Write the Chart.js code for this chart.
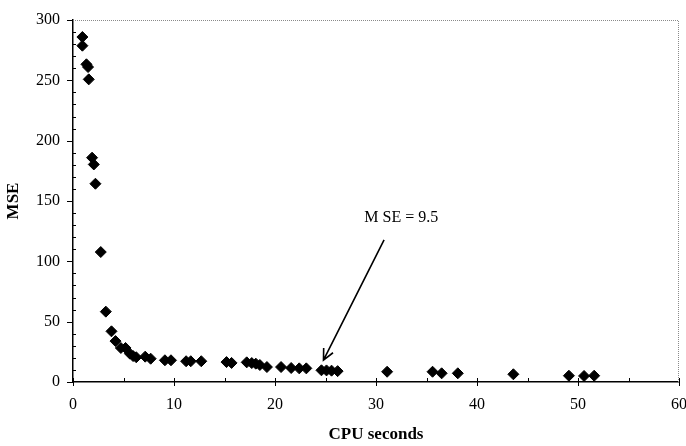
<!DOCTYPE html>
<html>
<head>
<meta charset="utf-8">
<script src="https://cdn.jsdelivr.net/npm/chart.js@4/dist/chart.umd.min.js"></script>
<style>
  body { margin: 0; background: #fff; }
  canvas { display: block; }
</style>
</head>
<body>
<canvas id="mse-chart" width="686" height="446"></canvas>
<script>
// values
const cpuSeconds = [0.93, 0.93, 1.33, 1.49, 1.56, 1.89, 2.06, 2.22, 2.75, 3.25, 3.81, 4.21, 4.74, 5.2, 5.63, 5.95, 6.26, 7.15, 7.69, 9.1, 9.7, 11.2, 11.66, 12.7,
    15.2, 15.7, 17.2, 17.7, 18.1, 18.5, 19.2, 20.6, 21.6, 22.4, 23.1, 24.6, 25.1, 25.6, 26.2, 31.1, 35.6, 36.5, 38.1, 43.6, 49.1, 50.6, 51.6]
const mse = [285.9, 278.7, 263.3, 261, 250.8, 185.9, 180.3, 164.3, 107.7, 58.3, 42, 33.9, 28.2, 28.2, 23.5, 21.5, 20.5, 21, 19.3, 18, 18, 17.2, 17.2, 17.2,
    16.5, 15.8, 16.3, 15.7, 15.2, 14.1, 12.4, 12.4, 11.6, 11.3, 11.3, 9.7, 9.6, 9.4, 9.0, 8.5, 8.5, 7.2, 7.2, 6.4, 5.2, 5.0, 5.2]

const xTicks = [0, 10, 20, 30, 40, 50, 60]
const yTicks = [0, 50, 100, 150, 200, 250, 300]

// annotation, in data units
const noteText = 'M SE = 9.5'
const notePos = [32.5, 136]
const arrowFrom = [30.8, 117.7]
const arrowTo = [24.8, 18.2]

const serif = "'Liberation Serif', 'DejaVu Serif', serif"

// minor/major tick marks, plot frame and the arrow note
const extras = {
    id: 'extras',
    afterDraw(chart) {
        const ctx = chart.ctx
        const {left, right, top, bottom} = chart.chartArea
        const xs = chart.scales.x, ys = chart.scales.y
        ctx.save()

        // dotted frame top/right
        ctx.strokeStyle = '#8a8a8a'
        ctx.lineWidth = 1
        ctx.setLineDash([1, 1])
        ctx.beginPath()
        ctx.moveTo(left, top + 0.5)
        ctx.lineTo(right - 0.5, top + 0.5)
        ctx.lineTo(right - 0.5, bottom)
        ctx.stroke()
        ctx.setLineDash([])

        ctx.strokeStyle = '#000'
        ctx.lineWidth = 1
        ctx.beginPath()
        for (let v = 0; v <= 300; v += 10) {
            const y = Math.round(ys.getPixelForValue(v)) + 0.5
            if (v % 50 === 0) {
                ctx.moveTo(left - 6, y); ctx.lineTo(left, y)
            } else {
                ctx.moveTo(left, y); ctx.lineTo(left + 3, y)
            }
        }
        for (let v = 0; v <= 60; v += 5) {
            const x = Math.round(xs.getPixelForValue(v)) + 0.5
            if (v % 10 === 0) {
                ctx.moveTo(x, bottom - 4); ctx.lineTo(x, bottom + 4)
            } else {
                ctx.moveTo(x, bottom - 4); ctx.lineTo(x, bottom)
            }
        }
        ctx.stroke()

        // arrow
        const x1 = xs.getPixelForValue(arrowFrom[0]), y1 = ys.getPixelForValue(arrowFrom[1])
        const x2 = xs.getPixelForValue(arrowTo[0]), y2 = ys.getPixelForValue(arrowTo[1])
        ctx.lineWidth = 1.6
        ctx.beginPath()
        ctx.moveTo(x1, y1)
        ctx.lineTo(x2, y2)
        const ang = Math.atan2(y2 - y1, x2 - x1)
        const head = 12
        ctx.moveTo(x2 - head * Math.cos(ang - 0.45), y2 - head * Math.sin(ang - 0.45))
        ctx.lineTo(x2, y2)
        ctx.lineTo(x2 - head * Math.cos(ang + 0.45), y2 - head * Math.sin(ang + 0.45))
        ctx.stroke()

        ctx.fillStyle = '#000'
        ctx.font = '16px ' + serif
        ctx.textAlign = 'center'
        ctx.textBaseline = 'middle'
        ctx.fillText(noteText, xs.getPixelForValue(notePos[0]), ys.getPixelForValue(notePos[1]))
        ctx.restore()
    }
}

const chart = new Chart(document.querySelector('#mse-chart').getContext('2d'), {
    type: 'scatter',
    data: {
        datasets: [{
            data: cpuSeconds.map((x, i) => ({x: x, y: mse[i]})),
            pointStyle: 'rectRot',
            radius: 5.5,
            backgroundColor: '#000',
            borderColor: '#000',
            borderWidth: 1
        }]
    },
    options: {
        responsive: false,
        animation: false,
        layout: {padding: {top: 20, right: 7, left: 0, bottom: 0}},
        plugins: {legend: {display: false}, tooltip: {enabled: false}},
        scales: {
            x: {
                type: 'linear',
                min: 0, max: 60,
                afterBuildTicks: s => { s.ticks = xTicks.map(v => ({value: v})) },
                afterFit: s => { s.height = 64; s.paddingLeft = 0; s.paddingRight = 0 },
                grid: {drawOnChartArea: false, drawTicks: false},
                border: {color: '#000', width: 1.5},
                ticks: {color: '#000', padding: 13, font: {family: serif, size: 16}, maxRotation: 0},
                title: {display: true, text: 'CPU seconds', color: '#000', padding: {top: 0, bottom: 1},
                    font: {family: serif, size: 17, weight: 'bold'}}
            },
            y: {
                min: 0, max: 300,
                afterBuildTicks: s => { s.ticks = yTicks.map(v => ({value: v})) },
                afterFit: s => { s.width = 73; s.paddingTop = 0; s.paddingBottom = 0 },
                grid: {drawOnChartArea: false, drawTicks: false},
                border: {color: '#000', width: 1.5},
                ticks: {color: '#000', padding: 13, font: {family: serif, size: 16}},
                title: {display: true, text: 'MSE', color: '#000', padding: {top: 3, bottom: 0},
                    font: {family: serif, size: 17, weight: 'bold'}}
            }
        }
    },
    plugins: [extras]
})
</script>
</body>
</html>
